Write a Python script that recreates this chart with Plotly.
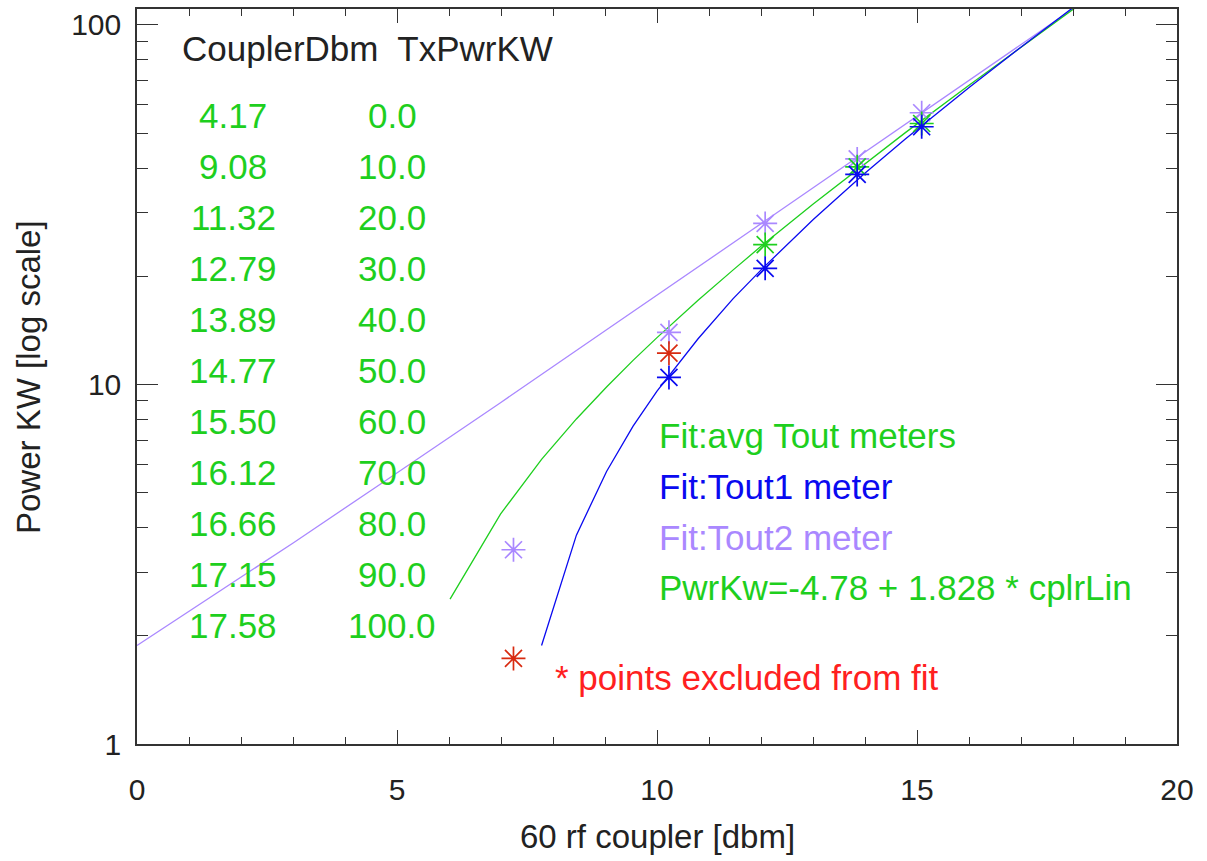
import plotly.graph_objects as go

# ---- data ----
# fit curves (coupler dBm -> power kW)
green_x = [6.02, 6.99, 7.78, 8.45, 9.03, 9.54, 10.0, 10.79, 11.46, 12.04, 13.01, 13.98, 14.77, 16.02, 16.99, 17.99, 18.13]
green_y = [2.53, 4.36, 6.19, 8.02, 9.84, 11.67, 13.5, 17.16, 20.8, 24.5, 31.8, 40.9, 50.1, 68.3, 86.6, 110.4, 114.0]

blue_x = [7.78, 8.45, 9.03, 9.54, 10.0, 10.79, 11.46, 12.04, 13.01, 13.98, 14.77, 16.02, 16.99, 17.99, 18.13]
blue_y = [1.88, 3.81, 5.73, 7.66, 9.58, 13.4, 17.3, 21.1, 28.8, 38.5, 48.1, 67.3, 86.6, 111.6, 115.5]

purple_x = [0.0, 3.01, 4.77, 6.99, 9.03, 10.0, 11.76, 13.01, 14.77, 16.02, 16.99, 17.99, 18.13]
purple_y = [1.88, 3.63, 5.39, 8.9, 14.2, 17.7, 26.5, 35.3, 52.8, 70.4, 88.0, 110.8, 114.3]

# measured points
purple_pts_x = [7.24, 10.23, 12.08, 13.85, 15.09]
purple_pts_y = [3.47, 13.97, 28.05, 42.4, 57.0]
green_pts_x = [12.08, 13.85, 15.09]
green_pts_y = [24.5, 40.3, 53.2]
blue_pts_x = [10.23, 12.08, 13.85, 15.09]
blue_pts_y = [10.46, 21.04, 38.4, 52.1]
red_pts_x = [7.24, 10.23]
red_pts_y = [1.73, 12.22]

# table
coupler_dbm = ["4.17", "9.08", "11.32", "12.79", "13.89", "14.77", "15.50", "16.12", "16.66", "17.15", "17.58"]
tx_pwr_kw = ["0.0", "10.0", "20.0", "30.0", "40.0", "50.0", "60.0", "70.0", "80.0", "90.0", "100.0"]

legend_lines = ["Fit:avg Tout meters", "Fit:Tout1 meter", "Fit:Tout2 meter", "PwrKw=-4.78 + 1.828 * cplrLin"]

GREEN = "#1ecf1e"
BLUE = "#0a0af0"
PURPLE = "#aa88ff"
RED = "#ff2020"
REDMK = "#d82a10"
FONT = "Liberation Sans"
FS = 35
TXT = "#222222"

W, H = 1207, 861
ML, MR, MT, MB = 137, 30, 7, 117
PW, PH = W - ML - MR, H - MT - MB


def px(x):
    return (x - ML) / PW


def py(y):
    return (H - MB - y) / PH


fig = go.Figure()
fig.add_trace(go.Scatter(x=purple_x, y=purple_y, mode="lines", line=dict(color=PURPLE, width=1.3), showlegend=False))
fig.add_trace(go.Scatter(x=green_x, y=green_y, mode="lines", line=dict(color=GREEN, width=1.3), showlegend=False))
fig.add_trace(go.Scatter(x=blue_x, y=blue_y, mode="lines", line=dict(color=BLUE, width=1.3), showlegend=False))

mk = dict(symbol="asterisk-open", size=20, line=dict(width=1.7))
fig.add_trace(go.Scatter(x=purple_pts_x, y=purple_pts_y, mode="markers",
                         marker=dict(**mk, color=PURPLE), showlegend=False))
fig.add_trace(go.Scatter(x=green_pts_x, y=green_pts_y, mode="markers",
                         marker=dict(**mk, color=GREEN), showlegend=False))
fig.add_trace(go.Scatter(x=blue_pts_x, y=blue_pts_y, mode="markers",
                         marker=dict(**mk, color=BLUE), showlegend=False))
fig.add_trace(go.Scatter(x=red_pts_x, y=red_pts_y, mode="markers",
                         marker=dict(**mk, color=REDMK), showlegend=False))

ann = []
ann.append(dict(x=px(180), y=py(47), xref="paper", yref="paper", xanchor="left", yanchor="middle",
                text="CouplerDbm  TxPwrKW", showarrow=False, font=dict(family=FONT, size=FS, color=TXT)))
for i, (a, b) in enumerate(zip(coupler_dbm, tx_pwr_kw)):
    yy = 114 + 51.1 * i
    ann.append(dict(x=px(233), y=py(yy), xref="paper", yref="paper", xanchor="center", yanchor="middle",
                    text=a, showarrow=False, font=dict(family=FONT, size=FS, color=GREEN)))
    ann.append(dict(x=px(392), y=py(yy), xref="paper", yref="paper", xanchor="center", yanchor="middle",
                    text=b, showarrow=False, font=dict(family=FONT, size=FS, color=GREEN)))
for txt, col, yy in zip(legend_lines, [GREEN, BLUE, PURPLE, GREEN], [435, 486, 537, 587]):
    ann.append(dict(x=px(657), y=py(yy), xref="paper", yref="paper", xanchor="left", yanchor="middle",
                    text=txt, showarrow=False, font=dict(family=FONT, size=FS, color=col)))
ann.append(dict(x=px(553), y=py(677), xref="paper", yref="paper", xanchor="left", yanchor="middle",
                text="* points excluded from fit", showarrow=False, font=dict(family=FONT, size=FS, color=RED)))
# axis titles
ann.append(dict(x=px(657), y=py(837), xref="paper", yref="paper", xanchor="center", yanchor="middle",
                text="60 rf coupler [dbm]", showarrow=False, font=dict(family=FONT, size=33, color=TXT)))
ann.append(dict(x=px(29), y=py(376), xref="paper", yref="paper", xanchor="center", yanchor="middle",
                text="Power KW [log scale]", textangle=-90, showarrow=False,
                font=dict(family=FONT, size=33, color=TXT)))

axis_common = dict(showgrid=False, zeroline=False, showline=True, linecolor="#333333", linewidth=1.5,
                   ticks="inside", tickcolor="#333333", tickwidth=1.3, mirror="allticks",
                   tickfont=dict(family=FONT, size=30, color=TXT))

fig.update_layout(
    width=W, height=H,
    margin=dict(l=ML, r=MR, t=MT, b=MB),
    paper_bgcolor="white", plot_bgcolor="white",
    annotations=ann,
    xaxis=dict(**axis_common, range=[0, 20], dtick=5, tick0=0, ticklen=14,
               minor=dict(ticks="inside", dtick=1, ticklen=7, tickcolor="#333333", tickwidth=1.2),
               ticklabelstandoff=18),
    yaxis=dict(**axis_common, type="log", range=[0, 2.0444], dtick=1, ticklen=21,
               minor=dict(ticks="inside", ticklen=11, tickcolor="#333333", tickwidth=1.2),
               ticklabelstandoff=8),
)

fig.write_html("out.html", config={"displayModeBar": False},
               post_script="document.body.style.margin='0';document.body.style.overflow='hidden';")
